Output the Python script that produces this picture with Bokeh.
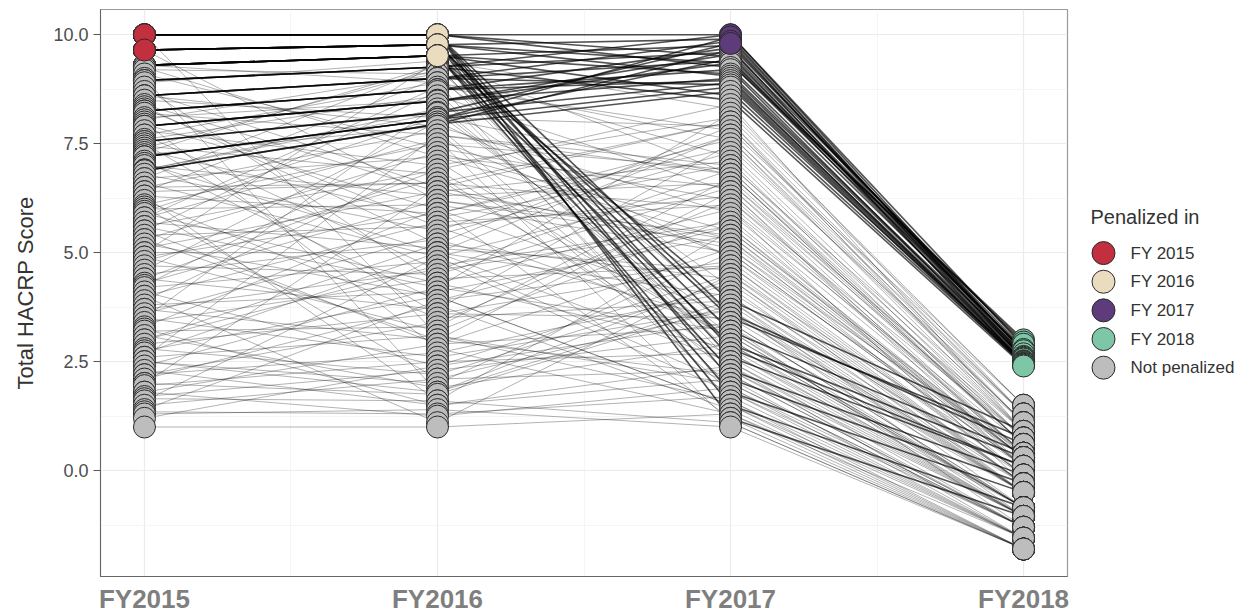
from bokeh.plotting import figure
from bokeh.models import FixedTicker, Range1d, ColumnDataSource, PrintfTickFormatter
from bokeh.layouts import row
from bokeh.embed import file_html
from bokeh.resources import INLINE
from bokeh.core.properties import value

# ---------------- data ----------------
years = ["FY2015", "FY2016", "FY2017", "FY2018"]
legend_labels = ["FY 2015", "FY 2016", "FY 2017", "FY 2018", "Not penalized"]
legend_colors = ["#C22F3E", "#EADDBF", "#5E3C7C", "#7DC7A6", "#BDBDBD"]

# hospitals penalized at least once (scores per year) followed by never-penalized hospitals
fy2015 = [
    10.0, 10.0, 9.65, 9.65, 9.3, 9.3, 8.95, 8.95, 8.6, 8.6, 8.25, 8.25, 7.9, 7.9,
    7.55, 7.55, 7.2, 7.2, 6.88, 6.88, 9.3, 10.0, 8.25, 8.95, 7.9, 7.2, 9.65, 8.6,
    10.0, 10.0, 9.65, 9.65, 9.65, 9.3, 9.3, 9.3, 10.0, 9.65, 9.3, 10.0,
    9.3, 9.1, 8.9, 8.7, 8.5, 8.35, 8.2, 8.05, 7.95, 7.8, 7.7, 7.6, 7.45, 7.35, 7.25,
    7.1, 7.0, 6.9, 6.8, 6.7, 6.6, 6.5, 6.4, 6.3, 6.2, 6.1, 6.0, 5.9, 5.8, 5.7, 5.6,
    5.5, 5.4, 5.3, 5.2, 5.1, 5.0, 4.9, 4.8, 4.7, 4.6, 4.5, 4.4, 4.3, 4.2, 4.1, 4.0,
    3.9, 3.8, 3.7, 3.6, 3.5, 3.4, 3.3, 3.2, 3.1, 3.0, 2.9, 2.8, 2.7, 2.6, 2.5, 2.4,
    2.3, 2.2, 2.1, 2.0, 1.95, 1.8, 1.7, 1.65, 1.5, 1.35, 1.3, 1.0,
    10.0, 9.65, 9.0, 8.8, 6.7, 5.5, 7.4, 3.5, 2.0, 1.6, 4.0, 8.0, 6.3, 2.6, 5.0,
    8.6, 7.7, 9.2, 6.9, 5.8, 8.1, 7.3, 6.5, 4.4, 3.0, 2.2, 1.8, 5.6, 4.9, 6.4,
    3.7, 7.05, 5.3, 2.5, 1.4, 8.4, 9.25, 6.05, 4.25, 3.25, 2.75, 5.95, 7.5, 1.2, 8.3,
]
fy2016 = [
    10.0, 10.0, 9.77, 9.77, 9.52, 9.52, 9.26, 9.26, 9.0, 9.0, 8.74, 8.74, 8.48, 8.48,
    8.22, 8.22, 8.06, 8.06, 7.95, 7.95, 9.52, 10.0, 8.74, 9.26, 8.48, 8.06, 9.77, 9.0,
    10.0, 10.0, 9.77, 9.77, 9.77, 9.52, 9.52, 9.52, 10.0, 9.77, 9.52, 10.0,
    8.9, 7.4, 9.4, 6.5, 8.1, 5.2, 7.7, 9.1, 6.0, 7.0, 4.6, 8.6, 6.8, 5.8, 7.9,
    3.9, 6.3, 8.3, 5.5, 7.2, 4.9, 6.6, 9.0, 5.9, 3.5, 7.5, 6.1, 4.3, 8.8, 5.1, 6.9,
    2.9, 5.6, 7.3, 4.0, 6.4, 5.0, 3.2, 6.7, 4.5, 8.0, 5.3, 3.7, 6.2, 4.8, 2.4, 5.7,
    7.1, 4.1, 3.0, 5.4, 2.6, 4.4, 6.0, 3.3, 1.9, 4.7, 3.6, 2.2, 5.0, 3.1, 2.0, 4.2,
    1.5, 2.7, 3.8, 1.75, 2.5, 1.25, 2.3, 1.6, 2.1, 1.3, 1.4, 1.0,
    3.1, 6.2, 1.8, 4.3, 9.3, 8.7, 9.2, 8.4, 6.5, 4.9, 1.1, 2.8, 1.6, 7.7, 9.4,
    7.9, 8.9, 9.1, 8.2, 7.6, 8.5, 9.3, 7.8, 6.9, 5.2, 3.4, 2.9, 4.2, 5.9, 6.6,
    4.6, 5.0, 3.0, 1.8, 3.9, 6.4, 7.2, 2.1, 7.6, 1.5, 4.0, 8.1, 3.6, 2.4, 5.6,
]
fy2017 = [
    10.0, 9.5, 9.9, 9.35, 9.75, 9.1, 10.0, 9.6, 9.4, 9.85, 9.2, 9.7, 9.0, 9.55,
    9.8, 8.9, 9.45, 8.8, 9.65, 8.7, 8.6, 9.25, 8.95, 8.5, 9.35, 9.95, 9.05, 8.85,
    3.6, 2.1, 3.2, 1.5, 2.6, 3.9, 1.8, 2.9, 1.2, 3.5, 2.3, 2.8,
    7.6, 6.2, 8.3, 5.1, 7.9, 4.4, 6.8, 7.2, 3.6, 8.1, 5.6, 6.4, 2.4, 7.0, 5.9,
    4.8, 6.6, 3.1, 7.7, 5.3, 2.0, 6.0, 4.2, 7.4, 3.9, 6.9, 5.0, 2.8, 7.8, 4.6, 8.4,
    3.3, 6.3, 5.5, 1.5, 7.1, 4.0, 5.8, 2.6, 6.5, 4.9, 3.4, 7.5, 5.2, 1.8, 4.5, 6.1,
    3.0, 5.4, 2.2, 7.3, 3.7, 4.7, 1.2, 6.7, 2.9, 5.7, 3.5, 4.3, 2.5, 1.6, 5.0, 3.2,
    2.1, 4.1, 1.4, 3.8, 2.7, 1.9, 3.1, 1.1, 2.3, 1.7, 1.0, 1.3,
    2.0, 5.4, 3.9, 6.0, 2.3, 1.9, 3.6, 2.9, 8.0, 6.6, 4.5, 1.3, 5.5, 7.0, 6.8,
    2.2, 1.6, 2.7, 3.3, 1.1, 4.0, 2.5, 1.8, 3.0, 7.9, 6.2, 5.1, 8.2, 7.6, 8.0,
    6.9, 7.7, 6.4, 4.4, 5.6, 5.3, 6.5, 3.7, 4.9, 2.4, 1.5, 6.8, 4.7, 3.4, 3.2,
]
fy2018 = [
    2.7, 2.75, 2.65, 3.0, 2.8, 2.6, 2.85, 2.75, 2.95, 2.55, 2.5, 2.45, 2.44, 2.62,
    2.72, 2.48, 2.58, 2.42, 2.9, 2.5, 2.44, 2.68, 2.52, 2.4, 2.78, 2.6, 2.56, 2.46,
    0.6, -0.3, 0.4, -0.85, 0.1, 0.9, -0.5, 0.3, -1.05, 0.75, -0.1, 0.1,
    0.9, 0.4, 1.3, 0.1, 1.1, -0.3, 0.6, 0.75, -0.5, 1.5, 0.3, 0.1, -1.05, 0.9, 0.4,
    -0.1, 0.6, -0.85, 1.1, 0.3, -1.3, -0.3, -0.5, 1.3, -0.85, 0.75, 0.1, -1.05, 1.5, -0.3, 0.9,
    -1.3, 0.4, 0.3, -1.55, 0.6, -0.5, 0.1, -1.05, 0.75, -0.1, -0.85, 1.1, 0.3, -1.55, -0.3, 0.4,
    -0.85, 0.1, -1.3, 0.9, -0.5, -0.1, -1.8, 0.6, -1.05, 0.3, -0.5, -0.3, -1.3, -1.8, 0.1, -0.85,
    -1.55, -0.1, -1.8, -0.5, -1.05, -1.55, -0.85, -1.8, -1.3, -1.55, -1.8, -1.55,
    -1.3, 0.3, -0.5, 0.6, -1.05, -1.3, -0.3, -0.85, 1.3, 0.9, 0.1, -1.8, 0.4, 1.1, 0.75,
    -1.3, -1.55, -0.85, -0.5, -1.8, -0.3, -1.05, -1.3, -0.85, 1.3, 0.75, 0.4, 1.5, 1.1, 0.9,
    0.6, 1.3, 0.3, -0.5, 0.1, -0.1, 0.4, -1.05, 0.3, -1.55, -1.8, 0.6, -0.3, -0.85, -1.05,
]
penalized_in = (
    ["FY 2015", "FY 2016", "FY 2015", "FY 2018", "FY 2016", "FY 2018", "FY 2017",
     "FY 2018", "FY 2018", "FY 2017", "FY 2018", "FY 2018", "FY 2018", "FY 2018",
     "FY 2017", "FY 2018", "FY 2018", "FY 2018", "FY 2018", "FY 2018", "FY 2018",
     "FY 2018", "FY 2018", "FY 2018", "FY 2018", "FY 2017", "FY 2018", "FY 2018"]
    + ["FY 2016"] * 12
    + ["Not penalized"] * 120
)

# ---------------- styling constants ----------------
FONT = "Liberation Sans"
N_H = len(penalized_in)
scores = [fy2015, fy2016, fy2017, fy2018]
color_of = dict(zip(legend_labels, legend_colors))
GRAY = color_of["Not penalized"]
TOP, BOTTOM = 9, 39
H = 616

p = figure(width=1083, height=H, output_backend="svg", toolbar_location=None,
           x_range=Range1d(0.85, 4.15), y_range=Range1d(-2.43, 10.58),
           min_border_left=100, min_border_right=16, min_border_top=TOP, min_border_bottom=BOTTOM)
p.title.visible = False
p.background_fill_color = "white"
p.border_fill_color = "white"
p.outline_line_color = "#9a9a9a"
p.outline_line_width = 1.2

# segments
light = dict(x0=[], y0=[], x1=[], y1=[])
dark = dict(x0=[], y0=[], x1=[], y1=[])
for i in range(N_H):
    tgt = light if penalized_in[i] == "Not penalized" else dark
    for j in range(len(years) - 1):
        tgt["x0"].append(j + 1)
        tgt["x1"].append(j + 2)
        tgt["y0"].append(scores[j][i])
        tgt["y1"].append(scores[j + 1][i])
p.segment(x0="x0", y0="y0", x1="x1", y1="y1", source=ColumnDataSource(light),
          line_color="black", line_alpha=0.3, line_width=1)
p.segment(x0="x0", y0="y0", x1="x1", y1="y1", source=ColumnDataSource(dark),
          line_color="black", line_alpha=0.68, line_width=1.6)

# points
gray_pts = []
col_pts = []
for j, yr in enumerate(years):
    for i in range(N_H):
        if penalized_in[i] == legend_labels[j]:
            col_pts.append((j + 1, scores[j][i], color_of[penalized_in[i]]))
        else:
            gray_pts.append((j + 1, scores[j][i], GRAY))
gray_pts.sort(key=lambda t: -t[1])
col_pts.sort(key=lambda t: -t[1])
for pts in (gray_pts, col_pts):
    src = ColumnDataSource(dict(x=[t[0] for t in pts], y=[t[1] for t in pts],
                                c=[t[2] for t in pts]))
    p.scatter(x="x", y="y", source=src, size=22, fill_color="c", fill_alpha=1,
              line_color="#2a2a2a", line_width=1)

# axes
p.xaxis.ticker = FixedTicker(ticks=[1, 2, 3, 4], minor_ticks=[1.5, 2.5, 3.5])
p.xaxis.major_label_overrides = {k + 1: y for k, y in enumerate(years)}
p.xaxis.major_label_text_font = FONT
p.xaxis.major_label_text_font_style = "bold"
p.xaxis.major_label_text_font_size = "26px"
p.xaxis.major_label_text_color = "#7f7f7f"
p.xaxis.major_label_standoff = 7
p.xaxis.major_tick_out = 0
p.xaxis.major_tick_in = 0
p.xaxis.minor_tick_out = 0
p.xaxis.minor_tick_in = 0
p.xaxis.axis_line_color = "#666666"

p.yaxis.ticker = FixedTicker(ticks=[0, 2.5, 5, 7.5, 10], minor_ticks=[-1.25, 1.25, 3.75, 6.25, 8.75])
p.yaxis.formatter = PrintfTickFormatter(format="%.1f")
p.yaxis.major_label_text_font = FONT
p.yaxis.major_label_text_font_size = "18px"
p.yaxis.major_label_text_color = "#4d4d4d"
p.yaxis.major_label_standoff = 5
p.yaxis.major_tick_out = 7
p.yaxis.major_tick_in = 0
p.yaxis.major_tick_line_color = "#555555"
p.yaxis.minor_tick_out = 0
p.yaxis.minor_tick_in = 0
p.yaxis.axis_line_color = "#666666"
p.yaxis.axis_label = "Total HACRP Score"
p.yaxis.axis_label_text_font = FONT
p.yaxis.axis_label_text_font_style = "normal"
p.yaxis.axis_label_text_font_size = "22px"
p.yaxis.axis_label_text_color = "#333333"
p.yaxis.axis_label_standoff = 12

p.xgrid.grid_line_color = "#ebebeb"
p.xgrid.grid_line_width = 1.2
p.xgrid.minor_grid_line_color = "#f2f2f2"
p.xgrid.minor_grid_line_width = 0.8
p.ygrid.grid_line_color = "#ebebeb"
p.ygrid.grid_line_width = 1.2
p.ygrid.minor_grid_line_color = "#f2f2f2"
p.ygrid.minor_grid_line_width = 0.8

# legend panel (frame aligned with the main panel; y in page pixels)
LW = 1256 - 1083
leg = figure(width=LW, height=H, output_backend="svg", toolbar_location=None,
             x_range=Range1d(0, LW), y_range=Range1d(H - BOTTOM, TOP),
             x_axis_type=None, y_axis_type=None,
             min_border_left=0, min_border_right=0, min_border_top=TOP, min_border_bottom=BOTTOM)
leg.title.visible = False
leg.grid.visible = False
leg.outline_line_color = None
leg.text(x=[7], y=[217], text=["Penalized in"], text_font=value(FONT),
         text_font_size="20px", text_color="#333333", text_baseline="middle")
ly = [253 + 28.7 * k for k in range(len(legend_labels))]
leg.scatter(x=[20] * len(legend_labels), y=ly, size=23, fill_color=legend_colors,
            line_color="#2a2a2a", line_width=1)
leg.text(x=[47] * len(legend_labels), y=ly, text=legend_labels, text_font=value(FONT),
         text_font_size="17px", text_color="#333333", text_baseline="middle")

layout = row(p, leg)
open("out.html", "w").write(file_html(layout, INLINE))
